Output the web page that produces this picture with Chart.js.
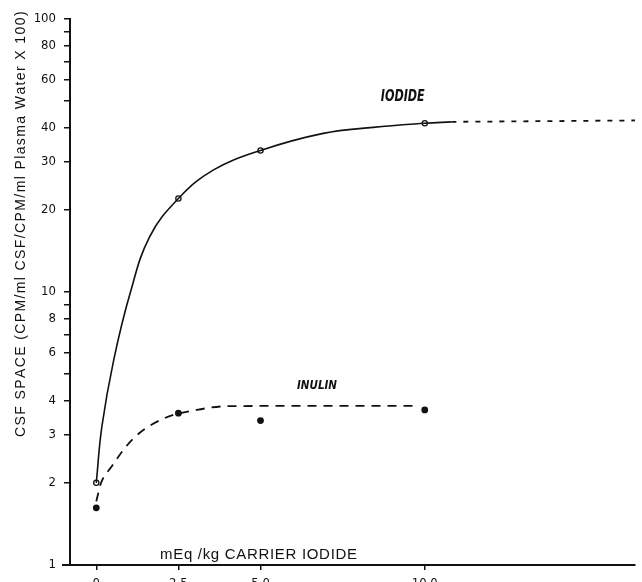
<!DOCTYPE html>
<html>
<head>
<meta charset="utf-8">
<title>CSF space vs carrier iodide</title>
<script src="https://cdn.jsdelivr.net/npm/chart.js@4.4.1/dist/chart.umd.min.js"></script>
<style>
    html, body { margin: 0; padding: 0; background: #fff; overflow: hidden; }
    #wrap { position: relative; width: 642px; height: 600px; }
</style>
</head>
<body>
<div id="wrap"><canvas id="csfChart"></canvas></div>
<script>
// Axis ticks
const xTickValues = [0, 2.5, 5, 10];
const xTickLabels = ['0', '2.5', '5.0', '10.0'];
const yTickValues = [1, 2, 3, 4, 5, 6, 7, 8, 9, 10, 20, 30, 40, 50, 60, 70, 80, 90, 100];
const yTickLabels = [1, 2, 3, 4, 6, 8, 10, 20, 30, 40, 60, 80, 100];

// Measured points (mEq/kg carrier iodide)
const doseX = [0, 2.5, 5, 10];
const iodidePoints = [2.0, 22, 33, 41.5];
const inulinPoints = [1.62, 3.6, 3.38, 3.7];

// Hand-drawn curves
const iodideCurveX = [0, 0.17, 0.53, 1.03, 1.62, 2.5, 3.57, 5, 6.91, 8.43, 10, 10.81];
const iodideCurveY = [2.0, 3.21, 5.63, 9.89, 15.9, 22, 28, 33, 38.1, 40.1, 41.5, 42.0];
const iodideExtX = [10.81, 16.4];
const iodideExtY = [42.0, 42.5];
const inulinCurveX = [0, 0.14, 0.45, 1.13, 2.05, 3.06, 4.07, 9.8];
const inulinCurveY = [1.71, 1.99, 2.28, 2.91, 3.44, 3.70, 3.82, 3.83];

const xyPairs = (xs, ys) => xs.map((x, i) => ({ x: x, y: ys[i] }));

const FONT = "'Liberation Sans Narrow', 'DejaVu Sans Condensed', 'Liberation Sans', Arial, sans-serif";
const WIDE = "'Liberation Sans', Arial, sans-serif";

// draw text stretched/spaced to a given width
function fitText(ctx, text, cx, cy, width, angle) {
    ctx.save();
    ctx.translate(cx, cy);
    if (angle) ctx.rotate(angle);
    ctx.textBaseline = 'middle';
    ctx.textAlign = 'left';
    const natural = ctx.measureText(text).width;
    if (natural >= width) {
        ctx.scale(width / natural, 1);
        ctx.fillText(text, -natural / 2, 0);
    } else {
        const gap = (width - natural) / (text.length - 1);
        let x = -width / 2;
        for (const ch of text) {
            ctx.fillText(ch, x, 0);
            x += ctx.measureText(ch).width + gap;
        }
    }
    ctx.restore();
}

const textPlugin = {
    id: 'figureText',
    afterDraw(chart) {
        const ctx = chart.ctx;
        const xs = chart.scales.x, ys = chart.scales.y, area = chart.chartArea;
        ctx.save();
        ctx.fillStyle = '#111';

        // x axis runs a little past the y axis
        ctx.strokeStyle = '#111';
        ctx.lineWidth = 2;
        ctx.beginPath();
        ctx.moveTo(62, area.bottom);
        ctx.lineTo(area.left, area.bottom);
        ctx.stroke();

        // y axis title
        ctx.font = '14px ' + WIDE;
        fitText(ctx, 'CSF SPACE (CPM/ml CSF/CPM/ml Plasma Water X 100)', 21, 225, 424, -Math.PI / 2);

        // x axis title, sits inside the plot
        ctx.font = '15px ' + WIDE;
        fitText(ctx, 'mEq /kg CARRIER IODIDE', xs.getPixelForValue(5) - 2, area.bottom - 10, 197, 0);

        // curve labels
        ctx.font = 'italic bold 15px ' + FONT;
        fitText(ctx, 'IODIDE', xs.getPixelForValue(9.33), ys.getPixelForValue(51.8), 44, 0);
        ctx.font = 'italic bold 13px ' + FONT;
        fitText(ctx, 'INULIN', xs.getPixelForValue(6.72), ys.getPixelForValue(4.53), 40, 0);
        ctx.restore();
    }
};

new Chart(document.getElementById('csfChart'), {
    type: 'line',
    data: {
        datasets: [
            {
                data: xyPairs(iodideCurveX, iodideCurveY),
                borderColor: '#111',
                borderWidth: 1.6,
                pointRadius: 0,
                tension: 0.4
            },
            {
                data: xyPairs(iodideExtX, iodideExtY),
                borderColor: '#111',
                borderWidth: 1.8,
                borderDash: [5, 7],
                pointRadius: 0
            },
            {
                data: xyPairs(inulinCurveX, inulinCurveY),
                borderColor: '#111',
                borderWidth: 1.8,
                borderDash: [9, 7],
                pointRadius: 0,
                cubicInterpolationMode: 'monotone'
            },
            {
                data: xyPairs(doseX, iodidePoints),
                showLine: false,
                pointRadius: 2.6,
                pointBorderWidth: 1.3,
                pointBorderColor: '#111',
                pointBackgroundColor: '#fff'
            },
            {
                data: xyPairs(doseX, inulinPoints),
                showLine: false,
                pointRadius: 3.4,
                pointBorderWidth: 0,
                pointBackgroundColor: '#111'
            }
        ]
    },
    options: {
        responsive: true,
        maintainAspectRatio: false,
        animation: false,
        events: [],
        layout: { padding: { left: 0, right: 7, top: 19, bottom: 0 } },
        plugins: {
            legend: { display: false },
            tooltip: { enabled: false }
        },
        scales: {
            x: {
                type: 'linear',
                min: -0.8,
                max: 16.4,
                afterBuildTicks: (scale) => { scale.ticks = xTickValues.map(v => ({ value: v })); },
                afterFit: (scale) => { scale.height = 35; },
                ticks: {
                    autoSkip: false,
                    maxRotation: 0,
                    padding: 6,
                    color: '#111',
                    font: { family: FONT, size: 13 },
                    callback: (value) => {
                        const i = xTickValues.indexOf(value);
                        return i >= 0 ? xTickLabels[i] : '';
                    }
                },
                grid: { drawOnChartArea: false, drawTicks: true, tickLength: 5, color: '#111', lineWidth: 1.5 },
                border: { display: true, color: '#111', width: 2 }
            },
            y: {
                type: 'logarithmic',
                min: 1,
                max: 100,
                afterBuildTicks: (scale) => { scale.ticks = yTickValues.map(v => ({ value: v })); },
                afterFit: (scale) => { scale.width = 70; },
                ticks: {
                    autoSkip: false,
                    padding: 8,
                    color: '#111',
                    font: { family: FONT, size: 13 },
                    callback: (value) => yTickLabels.includes(value) ? String(value) : ''
                },
                grid: { drawOnChartArea: false, drawTicks: true, tickLength: 6, color: '#111', lineWidth: 1.5 },
                border: { display: true, color: '#111', width: 2 }
            }
        }
    },
    plugins: [textPlugin]
});
</script>
</body>
</html>
